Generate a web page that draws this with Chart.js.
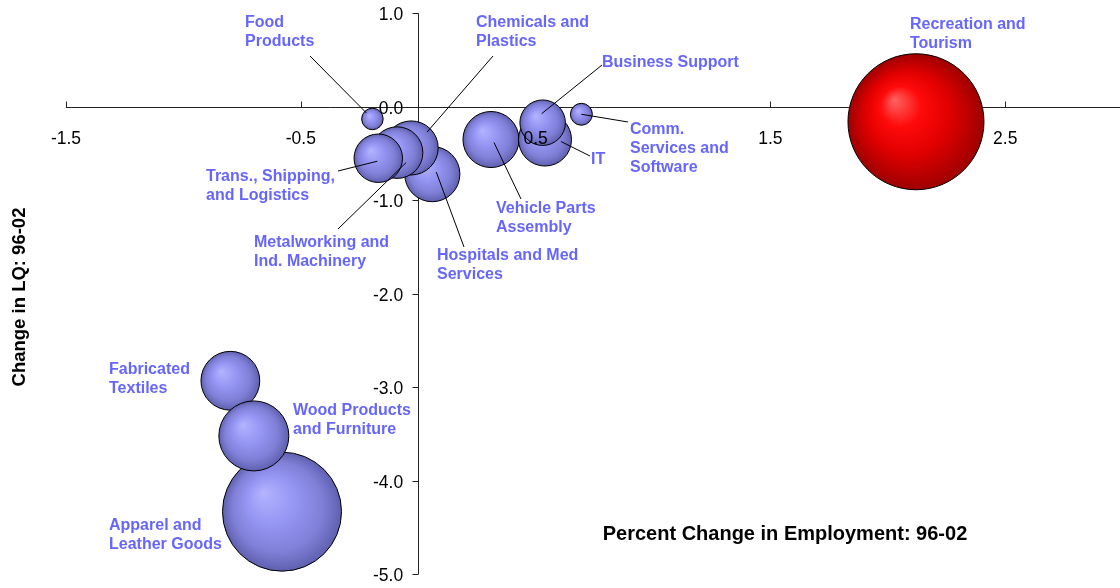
<!doctype html>
<html>
<head>
<title>Change in LQ vs Percent Change in Employment</title>
<script src="https://cdn.jsdelivr.net/npm/chart.js@4.4.0/dist/chart.umd.min.js"></script>
<style>
  html, body { margin: 0; padding: 0; background: #fff; overflow: hidden; }
</style>
</head>
<body>
<canvas id="chart" width="1123" height="588"></canvas>
<script>
// data (bubble order = drawing order)
const clusters = ['Recreation and Tourism', 'Apparel and Leather Goods', 'Fabricated Textiles',
  'Wood Products and Furniture', 'Hospitals and Med Services', 'Chemicals and Plastics',
  'Metalworking and Ind. Machinery', 'Trans., Shipping, and Logistics', 'Food Products',
  'Vehicle Parts Assembly', 'IT', 'Business Support', 'Comm. Services and Software'];
const pctChangeEmp = [2.12, -0.58, -0.80, -0.70, 0.06, -0.03, -0.09, -0.17, -0.195, 0.31, 0.54, 0.53, 0.695];
const lqChange     = [-0.16, -4.33, -2.93, -3.52, -0.72, -0.44, -0.49, -0.55, -0.13, -0.35, -0.35, -0.17, -0.08];
const bubbleSize   = [100, 76.6, 18.7, 26.5, 16.5, 15.8, 14.4, 12.7, 2.5, 17.0, 15.2, 11.2, 2.6];
const highlighted  = 'Recreation and Tourism';

const xTickValues = [-1.5, -0.5, 0.5, 1.5, 2.5];
const yTickValues = [1, 0, -1, -2, -3, -4, -5];
const xTitle = 'Percent Change in Employment: 96-02';
const yTitle = 'Change in LQ: 96-02';

// hand placed data labels: text block left / first line middle, leader start, leader end offset from bubble centre
const labelLayout = {
  'Food Products':                   { lines: ['Food', 'Products'], x: 245, y: 21, from: [310, 56], to: [-6, -6] },
  'Chemicals and Plastics':          { lines: ['Chemicals and', 'Plastics'], x: 476, y: 21, from: [493, 56], to: [16, -16] },
  'Business Support':                { lines: ['Business Support'], x: 602, y: 61, from: [602, 65], to: [-1, -9] },
  'Comm. Services and Software':     { lines: ['Comm.', 'Services and', 'Software'], x: 630, y: 128, from: [628, 122], to: [0, 0] },
  'IT':                              { lines: ['IT'], x: 591, y: 158, from: [590, 156], to: [16, 2] },
  'Vehicle Parts Assembly':          { lines: ['Vehicle Parts', 'Assembly'], x: 496, y: 207, from: [521, 199], to: [3, 3] },
  'Hospitals and Med Services':      { lines: ['Hospitals and Med', 'Services'], x: 437, y: 254, from: [464, 247], to: [4, -2] },
  'Metalworking and Ind. Machinery': { lines: ['Metalworking and', 'Ind. Machinery'], x: 254, y: 241, from: [338, 229], to: [9, 10] },
  'Trans., Shipping, and Logistics': { lines: ['Trans., Shipping,', 'and Logistics'], x: 206, y: 175, from: [338, 171], to: [-1, 3] },
  'Recreation and Tourism':          { lines: ['Recreation and', 'Tourism'], x: 910, y: 23 },
  'Fabricated Textiles':             { lines: ['Fabricated', 'Textiles'], x: 109, y: 368 },
  'Wood Products and Furniture':     { lines: ['Wood Products', 'and Furniture'], x: 293, y: 409 },
  'Apparel and Leather Goods':       { lines: ['Apparel and', 'Leather Goods'], x: 109, y: 524 }
};

const FONT = '"Liberation Sans", Arial, sans-serif';
const MAX_R = 68; // pixel radius of the biggest bubble, area ~ size
const MID = 2;    // canvas "middle" sits a little high for these fonts

const points = clusters.map((name, i) => ({
  x: pctChangeEmp[i], y: lqChange[i], r: MAX_R * Math.sqrt(bubbleSize[i] / Math.max(...bubbleSize)), name
}));

function bubbleFill(ctx) {
  const chart = ctx.chart, p = ctx.raw;
  const red = p && p.name === highlighted;
  if (!p || !chart.chartArea) return red ? '#ff0000' : '#9999ff';
  const cx = chart.scales.x.getPixelForValue(p.x), cy = chart.scales.y.getPixelForValue(p.y);
  const g = chart.ctx.createRadialGradient(cx - 0.32 * p.r, cy - 0.32 * p.r, 0, cx, cy, p.r);
  if (red) {
    g.addColorStop(0, '#ff6464');
    g.addColorStop(0.3, '#ff0a0a');
    g.addColorStop(0.6, '#e20000');
    g.addColorStop(1, '#9e0000');
  } else {
    g.addColorStop(0, '#b4b4ff');
    g.addColorStop(0.4, '#9696f4');
    g.addColorStop(0.75, '#8080d8');
    g.addColorStop(1, '#6060b0');
  }
  return g;
}

// axes cross at zero, drawn by hand with the chart's own scales
const crossAxes = {
  id: 'crossAxes',
  beforeDatasetsDraw(chart) {
    const {ctx, chartArea: a, scales: {x, y}} = chart;
    const x0 = Math.round(x.getPixelForValue(0)) + 0.5, y0 = Math.round(y.getPixelForValue(0)) + 0.5;
    ctx.save();
    ctx.strokeStyle = '#222';
    ctx.lineWidth = 1;
    ctx.beginPath();
    ctx.moveTo(x.getPixelForValue(xTickValues[0]), y0); ctx.lineTo(a.right, y0);
    ctx.moveTo(x0, y.getPixelForValue(1)); ctx.lineTo(x0, y.getPixelForValue(-5));
    xTickValues.forEach(v => { const px = Math.round(x.getPixelForValue(v)) + 0.5; ctx.moveTo(px, y0); ctx.lineTo(px, y0 - 6); });
    yTickValues.forEach(v => { const py = Math.round(y.getPixelForValue(v)) + 0.5; ctx.moveTo(x0, py); ctx.lineTo(x0 - 6, py); });
    ctx.stroke();
    ctx.restore();
  },
  afterDatasetsDraw(chart) {
    const {ctx, scales: {x, y}} = chart;
    const x0 = x.getPixelForValue(0), y0 = y.getPixelForValue(0);
    ctx.save();
    ctx.fillStyle = '#000';
    ctx.font = '17.5px ' + FONT;
    ctx.textBaseline = 'middle';
    ctx.textAlign = 'center';
    xTickValues.forEach(v => ctx.fillText(v.toFixed(1), x.getPixelForValue(v), y0 + 30 + MID));
    ctx.textAlign = 'right';
    yTickValues.forEach(v => ctx.fillText(v.toFixed(1), x0 - 15, y.getPixelForValue(v) + MID));

    // leaders and labels
    ctx.strokeStyle = '#000';
    ctx.lineWidth = 1;
    points.forEach(p => {
      const l = labelLayout[p.name];
      if (!l || !l.from) return;
      ctx.beginPath();
      ctx.moveTo(l.from[0], l.from[1]);
      ctx.lineTo(x.getPixelForValue(p.x) + l.to[0], y.getPixelForValue(p.y) + l.to[1]);
      ctx.stroke();
    });
    ctx.fillStyle = '#6666ff';
    ctx.font = 'bold 16px ' + FONT;
    ctx.textAlign = 'left';
    points.forEach(p => {
      const l = labelLayout[p.name];
      if (!l) return;
      l.lines.forEach((t, k) => ctx.fillText(t, l.x, l.y + k * 19 + MID));
    });

    // axis titles
    ctx.fillStyle = '#000';
    ctx.font = 'bold 20px ' + FONT;
    ctx.textAlign = 'center';
    ctx.textBaseline = 'alphabetic';
    ctx.fillText(xTitle, 785, 540);
    ctx.translate(20, 297);
    ctx.rotate(-Math.PI / 2);
    ctx.font = 'bold 18.5px ' + FONT;
    ctx.textBaseline = 'middle';
    ctx.fillText(yTitle, 0, 0);
    ctx.restore();
  }
};

new Chart(document.getElementById('chart'), {
  type: 'bubble',
  data: {
    datasets: [{
      label: 'Clusters',
      data: points,
      backgroundColor: bubbleFill,
      hoverBackgroundColor: bubbleFill,
      borderColor: '#000',
      borderWidth: 1,
      hoverBorderWidth: 1,
      clip: false
    }]
  },
  options: {
    responsive: false,
    animation: false,
    layout: { autoPadding: false, padding: { left: 66, right: 0.4, top: 13.3, bottom: 13.7 } },
    scales: {
      x: { type: 'linear', min: -1.5, max: 3.0, display: false },
      y: { type: 'linear', min: -5, max: 1, display: false }
    },
    plugins: { legend: { display: false }, tooltip: { enabled: false } },
    events: []
  },
  plugins: [crossAxes]
});
</script>
</body>
</html>
